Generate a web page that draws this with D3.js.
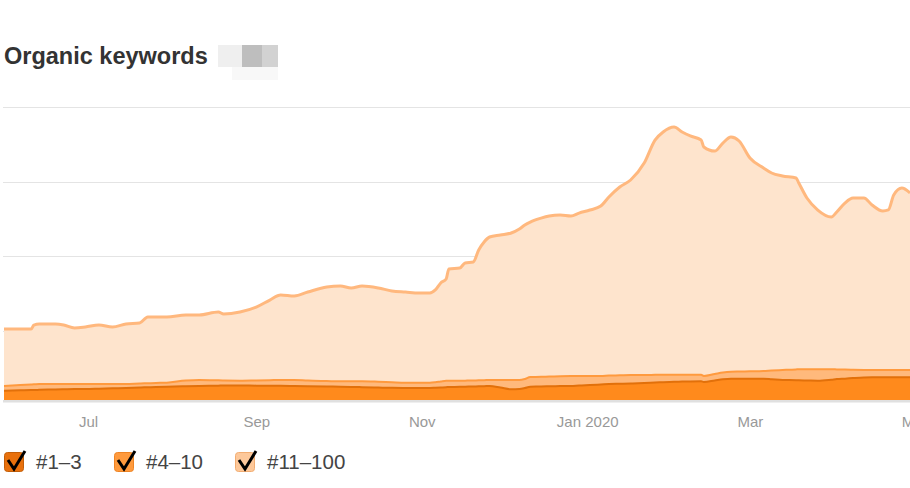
<!DOCTYPE html>
<html>
<head>
<meta charset="utf-8">
<script src="https://cdn.jsdelivr.net/npm/d3@7"></script>
<style>
  body { margin: 0; background: #fff; }
  svg { display: block; font-family: "Liberation Sans", Arial, sans-serif; }
</style>
</head>
<body>
<div id="chart"></div>
<script>
// Organic keywords — stacked areas by position group

const dates = [
  "2019-05-31","2019-06-06","2019-06-10","2019-06-11","2019-06-13","2019-06-19","2019-06-22","2019-06-26","2019-06-30",
  "2019-07-05","2019-07-10","2019-07-15","2019-07-20","2019-07-23","2019-07-26","2019-07-30",
  "2019-08-06","2019-08-11","2019-08-18","2019-08-20","2019-08-26",
  "2019-09-01","2019-09-06","2019-09-10","2019-09-15","2019-09-20","2019-09-27",
  "2019-10-02","2019-10-06","2019-10-10","2019-10-16","2019-10-21","2019-10-26","2019-10-31",
  "2019-11-04","2019-11-06","2019-11-08","2019-11-10","2019-11-11","2019-11-15","2019-11-17","2019-11-20","2019-11-22","2019-11-24","2019-11-26","2019-11-30",
  "2019-12-04","2019-12-07","2019-12-09","2019-12-11","2019-12-15","2019-12-18","2019-12-22","2019-12-26","2019-12-29",
  "2020-01-02","2020-01-06","2020-01-09","2020-01-13","2020-01-17","2020-01-22","2020-01-26","2020-01-29",
  "2020-02-02","2020-02-05","2020-02-08","2020-02-12","2020-02-13","2020-02-17","2020-02-20","2020-02-23","2020-02-26",
  "2020-03-01","2020-03-06","2020-03-09","2020-03-13","2020-03-18","2020-03-19","2020-03-22","2020-03-26","2020-03-31",
  "2020-04-02","2020-04-05","2020-04-08","2020-04-12","2020-04-15","2020-04-19","2020-04-21","2020-04-23","2020-04-26","2020-04-29"
];

// #1–3
const pos1to3 = [
  192,197,201,201,204,208,211,215,215,
  219,224,228,235,238,242,246,
  252,255,260,262,263,
  260,259,258,255,252,248,
  246,243,239,234,230,228,228,
  228,231,235,239,242,244,246,248,251,252,255,235,
  211,215,228,246,248,251,254,255,262,
  268,275,281,285,289,295,302,306,
  311,314,317,318,309,329,345,353,353,
  353,353,346,336,333,331,329,326,340,
  348,354,361,369,372,372,372,372,372,372
];

// #4–10
const pos4to10 = [
  63,71,74,76,78,74,71,67,67,
  63,58,54,54,54,54,54,
  76,81,71,67,64,
  70,74,78,81,76,74,
  72,75,79,78,75,71,71,
  71,74,81,87,85,82,81,81,81,81,81,101,
  125,121,121,130,130,132,133,134,127,
  121,114,114,113,113,107,103,101,
  95,93,90,89,81,87,91,94,97,
  99,103,117,134,145,148,150,153,140,
  130,121,111,101,98,98,98,98,98,98
];

// #11–100
const pos11to100 = [
  765,752,745,796,805,805,792,752,765,
  792,765,805,812,890,886,882,
  879,872,917,892,921,
  985,1076,1141,1127,1188,1261,
  1279,1252,1279,1259,1225,1217,1204,
  1204,1239,1322,1365,1499,1512,1580,1590,1749,1855,1919,1946,
  1973,2026,2067,2080,2131,2154,2163,2148,2187,
  2228,2281,2397,2528,2618,2845,3151,3257,
  3324,3257,3204,3150,3074,2993,3080,3150,3094,
  2863,2725,2651,2604,2569,2501,2299,2138,2044,
  2113,2236,2306,2309,2215,2134,2148,2349,2443,2376
];

const gridTicks = [1000, 2000, 3000, 4000];
const tickMonths = ["2019-07-01", "2019-09-01", "2019-11-01", "2020-01-01", "2020-03-01", "2020-05-01"];
const seriesKeys = ["p1", "p2", "p3"];
const legendLabels = ["#1–3", "#4–10", "#11–100"];

const width = 910, height = 488;
const parse = d3.timeParse("%Y-%m-%d");

const rows = dates.map((d, i) => ({
  date: parse(d), p1: pos1to3[i], p2: pos4to10[i], p3: pos11to100[i]
}));

const svg = d3.select("#chart").append("svg")
  .attr("width", width).attr("height", height)
  .style("overflow", "hidden");

const x = d3.scaleTime()
  .domain([new Date(2019, 4, 31), new Date(2020, 3, 29)])
  .range([4, 910]);
const y = d3.scaleLinear().domain([0, 4000]).range([405, 107]);

// title + blurred number
svg.append("text").attr("x", 4).attr("y", 64)
  .attr("font-size", 23.5).attr("font-weight", "bold").attr("fill", "#333")
  .text("Organic keywords");
const blur = svg.append("g");
blur.append("rect").attr("x", 218).attr("y", 45).attr("width", 24).attr("height", 22).attr("fill", "#efefef");
blur.append("rect").attr("x", 242).attr("y", 45).attr("width", 20).attr("height", 22).attr("fill", "#bebebe");
blur.append("rect").attr("x", 262).attr("y", 45).attr("width", 16).attr("height", 22).attr("fill", "#d2d2d2");
blur.append("rect").attr("x", 232).attr("y", 67).attr("width", 46).attr("height", 13).attr("fill", "#f8f8f8");

// grid
svg.append("g").selectAll("line").data(gridTicks).join("line")
  .attr("x1", 3).attr("x2", width)
  .attr("y1", d => Math.round(y(d)) + 0.5).attr("y2", d => Math.round(y(d)) + 0.5)
  .attr("stroke", "#e4e4e4").attr("stroke-width", 1.2);

svg.append("clipPath").attr("id", "plotclip")
  .append("rect").attr("x", 0).attr("y", 0).attr("width", width).attr("height", 400);

const stack = d3.stack().keys(seriesKeys);
const layers = stack(rows);

const fills = ["#ff8a1c", "#ffb97c", "#fee4cd"];
const strokes = ["#e2700a", "#ff9a3e", "#ffb87e"];
const strokeW = [2, 2, 3];

const area = d3.area().curve(d3.curveMonotoneX)
  .x(d => x(d.data.date)).y0(d => y(d[0])).y1(d => y(d[1]));
const topLine = d3.line().curve(d3.curveMonotoneX)
  .x(d => x(d.data.date)).y(d => y(d[1]));

const plot = svg.append("g").attr("clip-path", "url(#plotclip)");
// draw from the top layer down so lower lines stay visible
for (let i = layers.length - 1; i >= 0; i--) {
  plot.append("path").datum(layers[i]).attr("d", area).attr("fill", fills[i]);
}
for (let i = layers.length - 1; i >= 0; i--) {
  plot.append("path").datum(layers[i]).attr("d", topLine)
    .attr("fill", "none").attr("stroke", strokes[i])
    .attr("stroke-width", strokeW[i]).attr("stroke-linejoin", "round");
}

// x axis (May label sits past the right edge and gets cut, as in the original)
svg.append("rect").attr("x", 3).attr("y", 400).attr("width", width).attr("height", 2.5).attr("fill", "#e0e0e0");
const fmt = d => d.getMonth() === 0 ? d3.timeFormat("%b %Y")(d) : d3.timeFormat("%b")(d);
const xAxis = d3.axisBottom(x).tickValues(tickMonths.map(parse)).tickFormat(fmt).tickSize(0).tickPadding(0);
const ax = svg.append("g").attr("transform", "translate(0,415)").call(xAxis);
ax.select(".domain").remove();
ax.selectAll("text").attr("font-size", 15).attr("fill", "#999")
  .attr("font-family", "'Liberation Sans', Arial, sans-serif").attr("dy", "0.8em");

// legend
const legX = [4, 114, 235];
const boxFill = ["#e8700c", "#ff9a3d", "#fdc89a"];
const boxStroke = ["#c35e08", "#ee8424", "#f2ad72"];
const leg = svg.append("g").selectAll("g").data(legendLabels).join("g")
  .attr("transform", (d, i) => `translate(${legX[i]},452)`);
leg.append("rect").attr("x", 0.5).attr("y", 0.5).attr("width", 19).attr("height", 19)
  .attr("rx", 3).attr("fill", (d, i) => boxFill[i]).attr("stroke", (d, i) => boxStroke[i]);
leg.append("path").attr("d", "M4,8 L10,17 L21,-1")
  .attr("fill", "none").attr("stroke", "#000").attr("stroke-width", 3)
  .attr("stroke-linejoin", "miter").attr("stroke-linecap", "butt");
leg.append("text").attr("x", 32).attr("y", 17)
  .attr("font-size", 20.5).attr("fill", "#444").text(d => d);
</script>
</body>
</html>
